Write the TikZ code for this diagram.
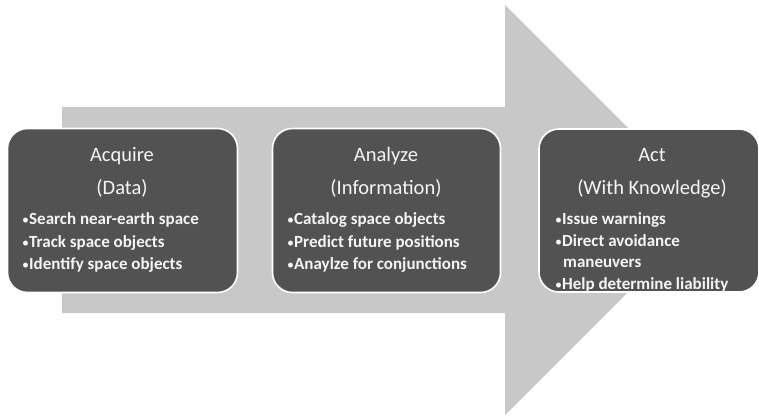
\documentclass[tikz,border=0pt]{standalone}
\usepackage{fontspec}
\setmainfont{Carlito}
\newcommand{\sbul}{{\mdseries\fontsize{14}{14}\selectfont •}}
\begin{document}
\begin{tikzpicture}[x=1pt,y=-1pt,
  bigarrow/.style={fill=arrowgrey,draw=none},
  stagebox/.style={fill=boxgrey,draw=white,line width=1.6pt,rounded corners=20pt,inner sep=0pt},
  ttl/.style={anchor=mid,text=txt,font=\fontsize{20.5}{22}\selectfont,inner sep=0pt},
  bul/.style={anchor=mid west,text=txt,font=\bfseries\fontsize{17}{18}\selectfont,inner sep=0pt}]
\definecolor{arrowgrey}{RGB}{200,200,200}
\definecolor{boxgrey}{RGB}{82,82,82}
\definecolor{txt}{RGB}{245,245,245}
\useasboundingbox[fill=white] (0,0) rectangle (759,419);
\fill[bigarrow] (62,107) -- (505,107) -- (505,5) -- (710,210) -- (505,415) -- (505,313) -- (62,313) -- cycle;
% boxes
\node[stagebox,minimum width=230pt,minimum height=164pt] (b1) at (122.5,210.5) {};
\node[stagebox,minimum width=228pt,minimum height=164pt] (b2) at (386.5,210.5) {};
\node[stagebox,minimum width=220pt,minimum height=163pt] (b3) at (649,210.5) {};
% box 1
\node[ttl] (t1a) at (122,159.5) {Acquire};
\node[ttl] (t1b) at (122,192.5) {(Data)};
\node[bul] (p1a) at (22,222.5) {\sbul Search near-earth space};
\node[bul] (p1b) at (22,245.5) {\sbul Track space objects};
\node[bul] (p1c) at (22,267.5) {\sbul Identify space objects};
% box 2
\node[ttl] (t2a) at (386,159.5) {Analyze};
\node[ttl] (t2b) at (386,192.5) {(Information)};
\node[bul] (p2a) at (287,222.5) {\sbul Catalog space objects};
\node[bul] (p2b) at (287,245.5) {\sbul Predict future positions};
\node[bul] (p2c) at (287,267.5) {\sbul Anaylze for conjunctions};
% box 3
\node[ttl] (t3a) at (652,159.5) {Act};
\node[ttl] (t3b) at (652,192.5) {(With Knowledge)};
\node[bul] (p3a) at (555,222.5) {\sbul Issue warnings};
\node[bul] (p3b) at (555,244.5) {\sbul Direct avoidance};
\node[bul] (p3c) at (563,265.5) {maneuvers};
\node[bul] (p3d) at (555,287.5) {\sbul Help determine liability};
\end{tikzpicture}
\end{document}
